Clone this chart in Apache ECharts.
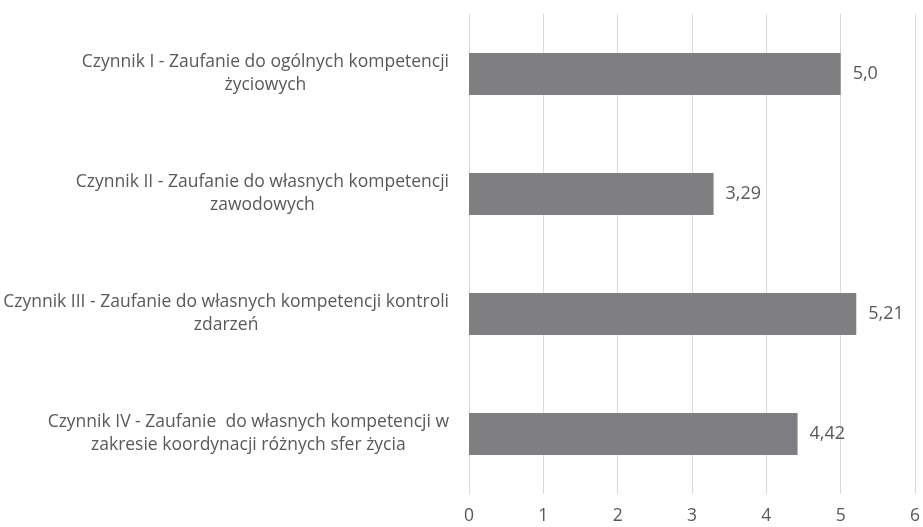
<!DOCTYPE html>
<html><head><meta charset="utf-8">
<script src="https://cdn.jsdelivr.net/npm/echarts@6/dist/echarts.min.js"></script>
<style>html,body{margin:0;padding:0;background:#fff}#c{width:923px;height:527px}</style>
</head><body><div id="c"></div>
<script>
const categories = [
  'Czynnik I - Zaufanie do ogólnych kompetencji\nżyciowych',
  'Czynnik II - Zaufanie do własnych kompetencji\nzawodowych',
  'Czynnik III - Zaufanie do własnych kompetencji kontroli\nzdarzeń',
  'Czynnik IV - Zaufanie  do własnych kompetencji w\nzakresie koordynacji różnych sfer życia'
];
const values = [5.0, 3.29, 5.21, 4.42];
const valueLabels = ['5,0', '3,29', '5,21', '4,42'];
const xTicks = [0, 1, 2, 3, 4, 5, 6];

const font = 'Open Sans';
const chart = echarts.init(document.getElementById('c'));
chart.setOption({
  animation: false,
  grid: { left: 469, right: 8, top: 14, bottom: 33, containLabel: false },
  xAxis: {
    type: 'value', min: xTicks[0], max: xTicks[xTicks.length - 1], interval: 1,
    axisLine: { show: false }, axisTick: { show: false },
    splitLine: { lineStyle: { color: '#d9d9d9', width: 1 } },
    axisLabel: { color: '#595959', fontFamily: font, fontSize: 17.5, margin: 13 }
  },
  yAxis: {
    type: 'category', inverse: true, data: categories,
    axisLine: { show: false }, axisTick: { show: false },
    axisLabel: {
      align: 'right', margin: 20,
      formatter: v => v.split('\n').map(l => '{c|' + l + '}').join('\n'),
      rich: { c: { align: 'center', color: '#595959', fontFamily: font, fontSize: 17.5, lineHeight: 23 } }
    }
  },
  series: [{
    type: 'bar', data: values, barWidth: 42,
    itemStyle: { color: '#7f7f82' },
    label: {
      show: true, position: 'right', distance: 12,
      color: '#595959', fontFamily: font, fontSize: 18,
      formatter: p => valueLabels[p.dataIndex]
    }
  }]
});
</script></body></html>
